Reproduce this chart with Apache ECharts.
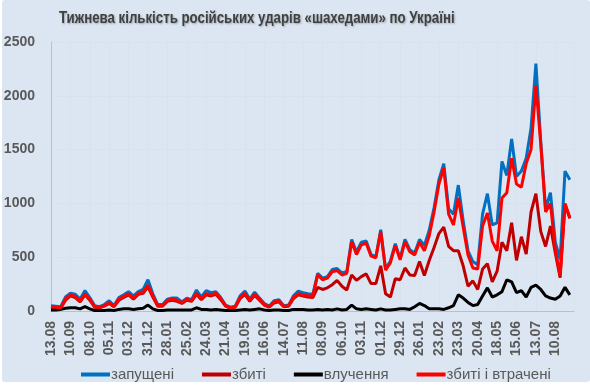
<!DOCTYPE html>
<html><head><meta charset="utf-8">
<script src="https://cdn.jsdelivr.net/npm/echarts@6/dist/echarts.min.js"></script>
<style>
html,body{margin:0;padding:0;background:#fff;}
#wrap{position:relative;width:590px;height:385px;overflow:hidden;}
#bg{position:absolute;left:2px;top:0;width:588px;height:382px;background:#dce6f2;border-radius:3px;}
#chart{position:absolute;left:0;top:0;width:590px;height:385px;}
</style></head><body>
<div id="wrap"><div id="bg"></div><div id="chart"></div></div>
<script>
const chartTitle = 'Тижнева кількість російських ударів «шахедами» по Україні';
const tickLabels = ['13.08','10.09','08.10','05.11','03.12','31.12','28.01','25.02','24.03','21.04','19.05','16.06','14.07','11.08','08.09','06.10','03.11','01.12','29.12','26.01','23.02','23.03','20.04','18.05','15.06','13.07','10.08'];
const seriesNames = ['запущені','збиті','влучення','збиті і втрачені'];
// weekly samples (every 7 days from 13.08)
const launched = [50,45,40,130,165,155,110,190,125,50,40,60,95,50,125,150,180,140,180,200,
  290,160,60,60,110,120,120,85,120,105,195,130,190,170,180,125,55,35,45,140,
  185,110,175,120,70,45,95,105,50,55,140,185,170,160,155,350,305,320,385,395,
  355,365,665,550,640,650,525,505,755,390,465,625,490,665,570,540,665,610,750,960,
  1220,1370,950,900,1170,840,560,460,430,900,1090,800,820,1390,1260,1600,1250,1300,1420,1700,
  2300,1580,950,1100,640,480,1300,1220];
const shotDown = [35,30,25,100,140,125,85,150,100,35,30,45,70,40,100,125,150,110,155,165,
  225,130,45,45,90,100,90,70,100,90,155,105,150,140,155,105,45,25,35,115,
  155,90,145,100,55,35,75,85,40,45,115,150,140,130,125,220,200,215,245,285,
  230,195,335,285,320,345,255,255,420,160,130,300,290,400,335,330,460,330,470,590,
  720,780,600,560,560,420,230,280,200,390,440,270,370,640,560,820,470,690,530,920,
  1090,740,600,790,540,310,990,860];
const hits = [10,10,15,25,30,30,20,40,20,5,5,5,10,5,15,20,20,15,20,25,
  55,20,5,5,10,10,10,10,10,10,30,15,15,10,15,10,5,5,5,10,
  15,10,15,20,10,5,10,10,5,5,15,15,15,10,10,15,10,15,10,20,
  10,15,55,20,15,20,15,10,20,10,10,15,20,20,15,40,70,50,20,20,
  20,15,30,50,150,120,80,50,60,140,215,130,150,180,290,270,170,190,130,220,
  240,200,140,120,110,140,220,150];
const shotOrLost = [40,35,30,110,150,135,95,160,110,40,35,50,75,45,110,135,160,120,165,175,
  240,140,50,50,100,110,100,75,110,95,165,115,160,150,165,115,50,30,40,125,
  165,100,155,110,60,40,85,95,45,50,125,160,150,140,140,335,290,305,365,375,
  335,350,645,525,615,630,510,495,740,380,450,610,475,645,550,520,640,560,700,920,
  1180,1330,900,800,1050,780,520,400,390,790,910,650,560,1050,1100,1420,1180,1150,1370,1500,
  2100,1550,920,1000,570,330,1000,870];

const stepDays = 7, tickDays = 28, axisEndDay = 755;
const colors = ['#0070c0','#c00000','#000000','#ff0000'];
const toPairs = arr => arr.map((v, i) => [i * stepDays, v]);
const dataSets = [launched, shotDown, hits, shotOrLost];
const font = "'Liberation Sans',Arial,sans-serif";

const chart = echarts.init(document.getElementById('chart'), null, {renderer:'canvas'});
chart.setOption({
  animation: false,
  backgroundColor: 'transparent',
  graphic: [{
    type: 'text', x: 59, y: 10, scaleX: 0.78, scaleY: 1, z: 100,
    style: {text: chartTitle, font: "bold 17px 'Liberation Sans',Arial,sans-serif", fill: '#404040',
      textShadowColor: 'rgba(0,0,0,0.3)', textShadowBlur: 2, textShadowOffsetX: 1, textShadowOffsetY: 1}
  }],
  grid: {left: 51, right: 16, top: 42, bottom: 74, containLabel: false},
  legend: {
    data: seriesNames, left: 76, top: 362, icon: 'rect', itemWidth: 29, itemHeight: 4, itemGap: 28,
    textStyle: {fontFamily: font, fontSize: 15, color: '#595959', padding: [0, 0, 0, -4]}
  },
  xAxis: {
    type: 'value', min: 0, max: axisEndDay, interval: tickDays,
    axisLine: {show: true, lineStyle: {color: '#bfbfbf', width: 1}},
    axisTick: {show: false},
    splitLine: {show: true, lineStyle: {color: '#d6e2f0', width: 1}},
    axisLabel: {rotate: 90, margin: 10, fontFamily: font, fontWeight: 'bold', fontSize: 14, color: '#595959',
      showMaxLabel: false,
      formatter: v => (v % tickDays === 0 ? (tickLabels[v / tickDays] || '') : '')}
  },
  yAxis: {
    type: 'value', min: 0, max: 2500, interval: 500,
    axisLine: {show: true, lineStyle: {color: '#bfbfbf', width: 1}},
    axisTick: {show: false},
    splitLine: {show: true, lineStyle: {color: '#d6e2f0', width: 1}},
    axisLabel: {margin: 16, fontFamily: font, fontWeight: 'bold', fontSize: 14, color: '#595959',
      formatter: v => String(v)}
  },
  series: seriesNames.map((name, k) => ({
    name, type: 'line', data: toPairs(dataSets[k]), showSymbol: false, symbol: 'none',
    color: colors[k], lineStyle: {width: 3, color: colors[k]}, z: 2 + k
  }))
});
</script>
</body></html>
